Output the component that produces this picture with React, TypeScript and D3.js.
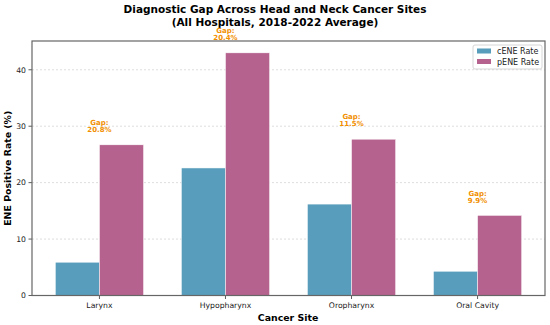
import React from "react";
import * as d3 from "d3";

const categories = ["Larynx", "Hypopharynx", "Oropharynx", "Oral Cavity"];
const cENE = [5.9, 22.6, 16.2, 4.3];
const pENE = [26.7, 43.0, 27.7, 14.2];
const gaps = [20.8, 20.4, 11.5, 9.9];
const yTicks = [0, 10, 20, 30, 40];
const seriesNames = ["cENE Rate", "pENE Rate"];

const W = 550, H = 325;
const M = { left: 32, right: 545, top: 41, bottom: 295.5 };
const FONT = "DejaVu Sans, sans-serif";
const C1 = "#589EBC", C2 = "#B5628E", GAPC = "#F18F01";

export default function App() {
  const x = d3.scaleLinear().domain([-0.535, 3.535]).range([M.left, M.right]);
  const y = d3.scaleLinear().domain([0, 45.1]).range([M.bottom, M.top]);
  const bw = 0.35;
  return (
    <svg width={W} height={H} style={{ position: "absolute", left: 0, top: 0 }} fontFamily={FONT}>
      <rect width={W} height={H} fill="#fff" />
      <text x={275} y={12.5} textAnchor="middle" fontSize={10.5} fontWeight="bold">Diagnostic Gap Across Head and Neck Cancer Sites</text>
      <text x={275} y={25.5} textAnchor="middle" fontSize={10.5} fontWeight="bold">(All Hospitals, 2018-2022 Average)</text>
      {yTicks.map((t) => (
        <g key={t}>
          <line x1={M.left} x2={M.right} y1={y(t)} y2={y(t)} stroke="#b0b0b0" strokeOpacity={0.6} strokeDasharray="2,2" strokeWidth={0.7} />
          <line x1={M.left - 3.5} x2={M.left} y1={y(t)} y2={y(t)} stroke="#333" strokeWidth={0.8} />
          <text x={M.left - 6} y={y(t) + 2.8} textAnchor="end" fontSize={7.7} fill="#222">{t}</text>
        </g>
      ))}
      {categories.map((c, i) => (
        <g key={c}>
          <rect x={x(i - bw)} y={y(cENE[i])} width={x(bw) - x(0)} height={y(0) - y(cENE[i])} fill={C1} stroke="#fff" strokeWidth={0.5} />
          <rect x={x(i)} y={y(pENE[i])} width={x(bw) - x(0)} height={y(0) - y(pENE[i])} fill={C2} stroke="#fff" strokeWidth={0.5} />
          <line x1={x(i)} x2={x(i)} y1={M.bottom} y2={M.bottom + 3.5} stroke="#333" strokeWidth={0.8} />
          <text x={x(i)} y={308} textAnchor="middle" fontSize={7.7} fill="#222">{c}</text>
          <text x={x(i)} y={y(pENE[i] + 2) - 8.5} textAnchor="middle" fontSize={7} fontWeight="bold" fill={GAPC}>Gap:</text>
          <text x={x(i)} y={y(pENE[i] + 2) - 1.5} textAnchor="middle" fontSize={7} fontWeight="bold" fill={GAPC}>{gaps[i].toFixed(1)}%</text>
        </g>
      ))}
      <rect x={M.left} y={M.top} width={M.right - M.left} height={M.bottom - M.top} fill="none" stroke="#666" strokeWidth={1.2} />
      <text x={288} y={320.5} textAnchor="middle" fontSize={9.4} fontWeight="bold">Cancer Site</text>
      <text transform={`translate(10.5,${(M.top + M.bottom) / 2}) rotate(-90)`} textAnchor="middle" fontSize={9.4} fontWeight="bold">ENE Positive Rate (%)</text>
      <g>
        <rect x={473} y={45} width={69} height={24} rx={2} fill="#fff" fillOpacity={0.9} stroke="#ccc" strokeWidth={0.8} />
        {seriesNames.map((s, k) => (
          <g key={s}>
            <rect x={477} y={48.5 + k * 10.5} width={14} height={5} fill={k === 0 ? C1 : C2} />
            <text x={497} y={54 + k * 10.5} fontSize={8} fill="#222">{s}</text>
          </g>
        ))}
      </g>
    </svg>
  );
}
